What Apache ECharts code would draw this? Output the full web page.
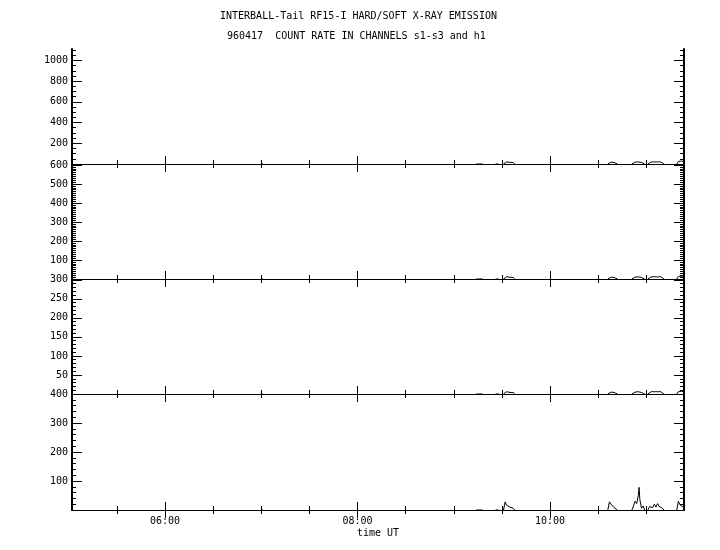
<!DOCTYPE html>
<html>
<head>
<meta charset="utf-8">
<script src="https://cdn.jsdelivr.net/npm/echarts@6/dist/echarts.min.js"></script>
<style>
  html, body { margin: 0; padding: 0; background: #fff; }
  #main { width: 720px; height: 550px; }
</style>
</head>
<body>
<div id="main"></div>
<script>
// time in minutes of day (UT); null values below mark gaps between bursts
const times = [420, 420.5, 421, 490,
  554, 555, 556, 557, 558, 562, 566, 567, 568, 569.5,
  571, 572, 573, 574, 575, 576, 577, 578, 610,
  636, 637, 638, 639, 640, 641, 642, 646,
  651, 652, 653, 654, 655, 655.5, 656, 657, 658, 659, 660,
  661, 662, 663, 664, 665, 666, 667, 668, 669, 670, 671, 675,
  679, 680, 681, 682, 683, 683.5];

// channel s1 (top panel)
const s1 = [0, 0, 0, null,
  0, 0, 0, 0, 0, null, 0, 8, 0, null,
  0, 18, 20, 18, 16, 18, 14, 0, null,
  0, 15, 18, 16, 14, 0, 0, null,
  0, 15, 18, 16, 20, 18, 16, 15, 14, 0, null,
  0, 18, 20, 18, 20, 18, 20, 18, 20, 16, 0, null,
  0, 25, 30, 28, 30, 25];
// channel s2
const s2 = [0, 0, 0, null,
  0, 4, 0, 4, 0, null, 0, 5, 0, null,
  0, 10, 12, 10, 9, 10, 8, 0, null,
  0, 8, 10, 9, 8, 0, 0, null,
  0, 8, 10, 9, 11, 10, 9, 8, 8, 0, null,
  0, 10, 11, 10, 12, 10, 11, 10, 12, 9, 0, null,
  0, 14, 16, 15, 16, 14];
// channel s3
const s3 = [0, 0, 0, null,
  0, 0, 0, 0, 0, null, 0, 3, 0, null,
  0, 5, 6, 5, 4, 5, 4, 0, null,
  0, 4, 5, 4, 4, 0, 0, null,
  0, 4, 5, 4, 6, 5, 4, 4, 4, 0, null,
  0, 5, 6, 5, 6, 5, 6, 5, 6, 4, 0, null,
  0, 6, 8, 7, 8, 6];
// channel h1 (bottom panel)
const h1 = [0, 4, 0, null,
  0, 3, 0, 3, 0, null, 0, 6, 0, null,
  0, 28, 16, 20, 10, 14, 6, 0, null,
  0, 28, 20, 24, 8, 5, 0, null,
  0, 14, 30, 22, 50, 78, 35, 6, 14, 0, null,
  0, 12, 18, 8, 20, 10, 22, 12, 18, 6, 0, null,
  0, 30, 18, 22, 10, 14];

// x ticks (minutes)
const xMajor = [360, 480, 600];
const xMinor = [330, 390, 420, 450, 510, 540, 570, 630, 660];
const xMin = 302, xMax = 683.5;

// y axes per panel
const yMax = [1110, 605, 302, 400];
const yMajor = [
  [200, 400, 600, 800, 1000],
  [100, 200, 300, 400, 500, 600],
  [50, 100, 150, 200, 250, 300],
  [100, 200, 300, 400]
];
const yMinorStep = [50, 10, 10, 20];

const panelTop = [49, 164, 279, 394];
const panelH = [115, 115, 115, 116];
const seriesData = [s1, s2, s3, h1];

const FONT = 'DejaVu Sans Mono';
const BLACK = '#000';

function minorList(step, max, major) {
  const out = [];
  for (let v = step; v <= max; v += step) {
    if (major.indexOf(v) < 0) out.push(v);
  }
  return out;
}

function hhmm(v) {
  const h = Math.floor(v / 60), m = Math.round(v - h * 60);
  return (h < 10 ? '0' : '') + h + ':' + (m < 10 ? '0' : '') + m;
}

const grid = [], xAxis = [], yAxis = [], series = [];

for (let p = 0; p < 4; p++) {
  grid.push({ left: 72, right: 36, top: panelTop[p], height: panelH[p] });
  const last = p === 3;
  const xBase = xAxis.length;
  const xDefs = [
    { pos: 'bottom', ticks: xMajor, len: 8, line: true, label: last },
    { pos: 'bottom', ticks: xMinor, len: 4, line: false, label: false },
    { pos: 'top', ticks: xMajor, len: 8, line: true, label: false },
    { pos: 'top', ticks: xMinor, len: 4, line: false, label: false }
  ];
  xDefs.forEach((d, i) => {
    xAxis.push({
      type: 'value', gridIndex: p, position: d.pos, min: xMin, max: xMax,
      splitLine: { show: false },
      axisLine: { show: d.line, lineStyle: { color: BLACK, width: 1 } },
      axisTick: { show: true, inside: true, length: d.len, customValues: d.ticks,
        lineStyle: { color: BLACK, width: 1 } },
      axisLabel: { show: d.label, customValues: xMajor, formatter: hhmm,
        color: BLACK, fontFamily: FONT, fontSize: 10, margin: 6 },
      name: (last && i === 0) ? 'time UT' : '',
      nameLocation: 'middle', nameGap: 18,
      nameTextStyle: { color: BLACK, fontFamily: FONT, fontSize: 10 }
    });
  });

  const yBase = yAxis.length;
  const minor = minorList(yMinorStep[p], yMax[p], yMajor[p]);
  const yDefs = [
    { pos: 'left', ticks: yMajor[p], len: 10, line: true, label: true },
    { pos: 'left', ticks: minor, len: 4, line: false, label: false },
    { pos: 'right', ticks: yMajor[p], len: 10, line: true, label: false },
    { pos: 'right', ticks: minor, len: 4, line: false, label: false }
  ];
  yDefs.forEach(d => {
    yAxis.push({
      type: 'value', gridIndex: p, position: d.pos, min: 0, max: yMax[p],
      splitLine: { show: false },
      axisLine: { show: d.line, lineStyle: { color: BLACK, width: 2 } },
      axisTick: { show: true, inside: true, length: d.len, customValues: d.ticks,
        lineStyle: { color: BLACK, width: 1 } },
      axisLabel: { show: d.label, customValues: yMajor[p], color: BLACK,
        formatter: v => String(v),
        fontFamily: FONT, fontSize: 10, margin: 4 }
    });
  });

  series.push({
    type: 'line', xAxisIndex: xBase, yAxisIndex: yBase,
    smooth: false, showSymbol: false, symbol: 'none', connectNulls: false,
    animation: false,
    lineStyle: { color: BLACK, width: 1 },
    data: times.map((t, i) => [t, seriesData[p][i]])
  });
}

const chart = echarts.init(document.getElementById('main'));
chart.setOption({
  backgroundColor: '#fff',
  animation: false,
  title: [
    { text: 'INTERBALL-Tail RF15-I HARD/SOFT X-RAY EMISSION', left: 215, top: 6,
      textStyle: { color: BLACK, fontFamily: FONT, fontSize: 10, fontWeight: 'normal' } },
    { text: '960417  COUNT RATE IN CHANNELS s1-s3 and h1', left: 222, top: 26,
      textStyle: { color: BLACK, fontFamily: FONT, fontSize: 10, fontWeight: 'normal' } }
  ],
  grid: grid,
  xAxis: xAxis,
  yAxis: yAxis,
  series: series
});
</script>
</body>
</html>
